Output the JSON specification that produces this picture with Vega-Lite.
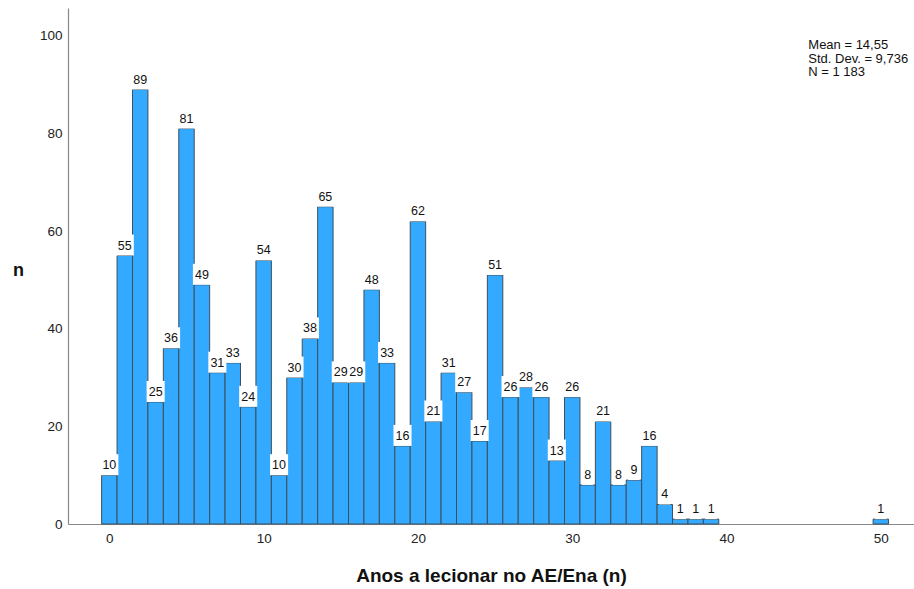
{
  "$schema": "https://vega.github.io/schema/vega-lite/v6.json",
  "width": 846,
  "height": 516,
  "autosize": "none",
  "padding": {"left": 68, "top": 8, "right": 0, "bottom": 65},
  "background": "white",
  "config": {
    "view": {"stroke": null},
    "font": "Liberation Sans",
    "axis": {"grid": false, "ticks": false, "labelFont": "Liberation Sans", "labelFontSize": 13.5, "labelColor": "#222222", "domainColor": "#888888", "domainWidth": 1.2, "titleFont": "Liberation Sans", "titleFontSize": 19, "titleFontWeight": "bold", "titleColor": "#111111"}
  },
  "data": {
    "values": [
      {"x": 0, "n": 10}, {"x": 1, "n": 55}, {"x": 2, "n": 89}, {"x": 3, "n": 25}, {"x": 4, "n": 36},
      {"x": 5, "n": 81}, {"x": 6, "n": 49}, {"x": 7, "n": 31}, {"x": 8, "n": 33}, {"x": 9, "n": 24},
      {"x": 10, "n": 54}, {"x": 11, "n": 10}, {"x": 12, "n": 30}, {"x": 13, "n": 38}, {"x": 14, "n": 65},
      {"x": 15, "n": 29}, {"x": 16, "n": 29}, {"x": 17, "n": 48}, {"x": 18, "n": 33}, {"x": 19, "n": 16},
      {"x": 20, "n": 62}, {"x": 21, "n": 21}, {"x": 22, "n": 31}, {"x": 23, "n": 27}, {"x": 24, "n": 17},
      {"x": 25, "n": 51}, {"x": 26, "n": 26}, {"x": 27, "n": 28}, {"x": 28, "n": 26}, {"x": 29, "n": 13},
      {"x": 30, "n": 26}, {"x": 31, "n": 8}, {"x": 32, "n": 21}, {"x": 33, "n": 8}, {"x": 34, "n": 9},
      {"x": 35, "n": 16}, {"x": 36, "n": 4}, {"x": 37, "n": 1}, {"x": 38, "n": 1}, {"x": 39, "n": 1},
      {"x": 50, "n": 1}
    ]
  },
  "layer": [
    {
      "transform": [{"bin": {"step": 1, "anchor": -0.5, "extent": [-0.5, 50.5], "nice": false}, "field": "x", "as": ["x0", "x1"]}],
      "mark": {"type": "rect", "fill": "#33aaff", "stroke": "#3d4f5c", "strokeWidth": 1},
      "encoding": {
        "x": {"field": "x0", "type": "quantitative", "scale": {"domain": [-2.68, 52.15], "nice": false, "zero": false},
              "axis": {"values": [0, 10, 20, 30, 40, 50], "title": "Anos a lecionar no AE/Ena (n)", "labelPadding": 7, "titlePadding": 22}},
        "x2": {"field": "x1"},
        "y": {"field": "n", "type": "quantitative", "scale": {"domain": [0, 105.7], "nice": false},
              "axis": {"values": [0, 20, 40, 60, 80, 100], "title": "n", "titleFontSize": 18, "titleAngle": 0, "titleAlign": "center", "titleBaseline": "middle", "titleX": -50, "titleY": 262, "labelPadding": 6}},
        "y2": {"datum": 0}
      }
    },
    {
      "mark": {"type": "point", "filled": true, "fill": "white", "stroke": null, "opacity": 1, "yOffset": -10.5},
      "encoding": {
        "x": {"field": "x", "type": "quantitative"},
        "y": {"field": "n", "type": "quantitative"},
        "size": {"value": 441},
        "shape": {"condition": {"test": "datum.n >= 10", "value": "M-0.86,-1H0.86V1H-0.86Z"}, "value": "M-0.55,-1H0.55V1H-0.55Z"}
      }
    },
    {
      "mark": {"type": "text", "fontSize": 12.5, "color": "#111111", "baseline": "middle", "yOffset": -10},
      "encoding": {
        "x": {"field": "x", "type": "quantitative"},
        "y": {"field": "n", "type": "quantitative"},
        "text": {"field": "n", "type": "quantitative"}
      }
    },
    {
      "data": {"values": [{"label": ["Mean = 14,55", "Std. Dev. = 9,736", "N = 1 183"]}]},
      "mark": {"type": "text", "align": "left", "baseline": "top", "fontSize": 13, "lineHeight": 13.5, "color": "#111111"},
      "encoding": {
        "x": {"datum": 45.3, "type": "quantitative"},
        "y": {"datum": 99.3, "type": "quantitative"},
        "text": {"field": "label"}
      }
    }
  ]
}
